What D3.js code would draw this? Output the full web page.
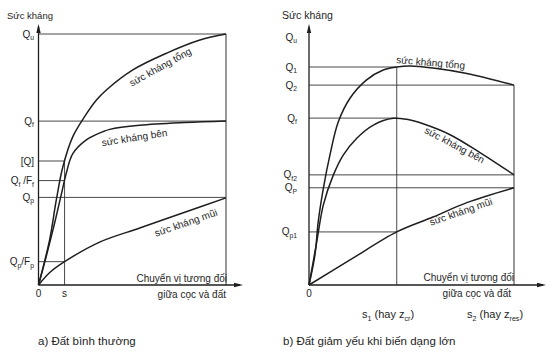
<!DOCTYPE html>
<html><head><meta charset="utf-8">
<script src="https://cdn.jsdelivr.net/npm/d3@7/dist/d3.min.js"></script>
<style>
html,body{margin:0;padding:0;background:#fff;}
svg{display:block;font-family:"Liberation Sans",Arial,sans-serif;}
</style></head>
<body>
<svg id="c" width="560" height="356"></svg>
<script>
// ---------- DATA (resistance units: Qu = 100; displacement units: end of curve = 100) ----------
// Panel a) normal soil
const levelNamesA = ["Qu", "Qf", "[Q]", "Qf/Ff", "Qp", "Qp/Fp"];
const levelValuesA = [100, 65.3, 49.4, 41.6, 34.9, 9.3];
const levelEndA = ["end", "end", "s", "s", "end", "s"];
const sA = 13.9;
const totalA = [[0,0],[5.9,17.9],[9.5,33.9],[13,47.1],[18.3,59.1],[24.6,67.1],[30.9,73.7],[36.2,77.7],[50.3,85.7],[68.4,92.4],[86.1,97.6],[100,100]];
const shaftA = [[0,0],[4.1,11.3],[8.6,24.7],[12.6,37.5],[14.8,44.5],[18.3,52.3],[25.5,57.8],[34.4,61.1],[38,62],[54,63.6],[78,64.7],[100,65.3]];
const tipA = [[0,0],[6,5],[13.9,9.3],[32.6,17.1],[54,22.7],[78,29],[100,34.7]];

// Panel b) strain-softening soil
const levelNamesB = ["Qu", "Q1", "Q2", "Qf", "Qf2", "QP", "Qp1"];
const levelValuesB = [100, 87.9, 80.6, 67.3, 44.4, 39.2, 21.4];
const levelEndB = ["none", "s1", "s2", "s1", "s2", "s2", "s1"];
const s1B = 42.8, s2B = 100;
const totalB = [[0,0],[2.9,12.1],[4.5,25.5],[7,39],[10.2,52.4],[14.3,65.8],[20,75.3],[28.1,82.7],[36.2,86.7],[42.8,87.9],[49.3,88.3],[60.5,87.5],[77,85.3],[100,80.6]];
const shaftB = [[0,0],[3.8,17.5],[7,32.3],[11.9,44.4],[16.7,52.4],[23.3,59.2],[31.4,64.5],[41.1,67.2],[47.7,66.8],[56,64.9],[68.8,60.6],[83.4,53.4],[100,44.4]];
const tipB = [[0,0],[20,10.1],[42.8,21.4],[60.5,27.4],[77,33.2],[100,39.2]];

const curveNames = ["sức kháng tổng", "sức kháng bên", "sức kháng mũi"];
const yTitle = "Sức kháng";
const xTitle = ["Chuyển vị tương đối", "giữa cọc và đất"];
const captions = ["a) Đất bình thường", "b) Đất giảm yếu khi biến dạng lớn"];

// ---------- DRAWING ----------
const svg = d3.select("#c");
const ink = "#1e1e1e";
const FS = 10;

function qParts(name) {
  const map = {
    "Qu": [["Q"],["u",1]], "Qf": [["Q"],["f",1]], "[Q]": [["[Q]"]],
    "Qf/Ff": [["Q"],["f",1],[" /F"],["f",1]], "Qp": [["Q"],["p",1]],
    "Qp/Fp": [["Q"],["p",1],["/F"],["p",1]], "Q1": [["Q"],["1",1]], "Q2": [["Q"],["2",1]],
    "Qf2": [["Q"],["f2",1]], "QP": [["Q"],["P",1]], "Qp1": [["Q"],["p1",1]]
  };
  return map[name];
}
function qLabel(g, x, y, name, anchor) {
  const t = g.append("text").attr("x", x).attr("y", y + 3.5)
    .attr("font-size", FS).attr("fill", ink).attr("text-anchor", anchor || "end");
  let down = false;
  qParts(name).forEach(([s, sub]) => {
    const ts = t.append("tspan").text(s);
    if (sub && !down) { ts.attr("font-size", FS * 0.68).attr("dy", 2.5); down = true; }
    else if (!sub && down) { ts.attr("dy", -2.5); down = false; }
    else if (sub) ts.attr("font-size", FS * 0.68);
  });
}
function subText(g, x, y, fs, parts) {
  const t = g.append("text").attr("x", x).attr("y", y).attr("font-size", fs).attr("fill", ink);
  let down = false;
  parts.forEach(([s, sub]) => {
    const ts = t.append("tspan").text(s);
    if (sub && !down) { ts.attr("font-size", fs * 0.65).attr("dy", 2.5); down = true; }
    else if (!sub && down) { ts.attr("dy", -2.5); down = false; }
  });
}
function arrowY(g, x, y0, y1) {
  g.append("line").attr("x1", x).attr("x2", x).attr("y1", y0).attr("y2", y1).attr("stroke", ink).attr("stroke-width", 1.3);
  g.append("path").attr("d", `M${x},${y1 - 3}L${x - 2.2},${y1 + 6}L${x + 2.2},${y1 + 6}Z`).attr("fill", ink);
}
function arrowX(g, y, x0, x1) {
  g.append("line").attr("x1", x0).attr("x2", x1).attr("y1", y).attr("y2", y).attr("stroke", ink).attr("stroke-width", 1.3);
  g.append("path").attr("d", `M${x1 + 3},${y}L${x1 - 6},${y - 2.2}L${x1 - 6},${y + 2.2}Z`).attr("fill", ink);
}
function rotText(g, x, y, ang, txt) {
  g.append("text").attr("transform", `translate(${x},${y}) rotate(${ang})`)
    .attr("text-anchor", "middle").attr("font-size", FS).attr("fill", ink).text(txt);
}
function txt(g, x, y, s, anchor, fs) {
  g.append("text").attr("x", x).attr("y", y).attr("font-size", fs || FS).attr("fill", ink)
    .attr("text-anchor", anchor || "start").text(s);
}

// ---- Panel a ----
{
  const g = svg.append("g");
  const x = d3.scaleLinear().domain([0, 100]).range([38.5, 226]);
  const y = d3.scaleLinear().domain([0, 100]).range([285, 34]);
  const line = d3.line().x(d => x(d[0])).y(d => y(d[1])).curve(d3.curveCatmullRom.alpha(0.5));

  levelValuesA.forEach((v, i) => {
    const xe = levelEndA[i] === "end" ? x(100) : x(sA);
    g.append("line").attr("x1", x(0)).attr("x2", xe).attr("y1", y(v)).attr("y2", y(v))
      .attr("stroke", "#333").attr("stroke-width", 0.9);
    qLabel(g, 34, y(v), levelNamesA[i]);
  });
  g.append("line").attr("x1", x(sA)).attr("x2", x(sA)).attr("y1", y(levelValuesA[2])).attr("y2", y(0)).attr("stroke", "#333").attr("stroke-width", 0.9);
  g.append("line").attr("x1", x(100)).attr("x2", x(100)).attr("y1", y(100)).attr("y2", y(0)).attr("stroke", "#333").attr("stroke-width", 1);

  [totalA, shaftA, tipA].forEach(d => g.append("path").attr("d", line(d)).attr("fill", "none").attr("stroke", ink).attr("stroke-width", 1.5));

  arrowY(g, x(0), y(0), 27);
  arrowX(g, y(0), x(0), 240);

  txt(g, 7, 19, yTitle, "start", 9.5);
  txt(g, x(0), 297, "0", "middle");
  txt(g, x(sA), 297, "s", "middle");
  txt(g, 227, 282, xTitle[0], "end");
  txt(g, 226, 298, xTitle[1], "end");

  rotText(g, 162, 70, -29, curveNames[0]);
  rotText(g, 135, 141, -9, curveNames[1]);
  rotText(g, 187, 226, -19, curveNames[2]);

  txt(g, 38, 345, captions[0], "start", 11.5);
}

// ---- Panel b ----
{
  const g = svg.append("g");
  const x = d3.scaleLinear().domain([0, 100]).range([309, 514]);
  const y = d3.scaleLinear().domain([0, 100]).range([285, 37]);
  const line = d3.line().x(d => x(d[0])).y(d => y(d[1])).curve(d3.curveCatmullRom.alpha(0.5));

  levelValuesB.forEach((v, i) => {
    const e = levelEndB[i];
    if (e !== "none") {
      const xe = e === "s1" ? x(s1B) : x(s2B);
      g.append("line").attr("x1", x(0)).attr("x2", xe).attr("y1", y(v)).attr("y2", y(v))
        .attr("stroke", "#333").attr("stroke-width", 0.9);
    }
    qLabel(g, 297, y(v), levelNamesB[i]);
  });
  g.append("line").attr("x1", x(s1B)).attr("x2", x(s1B)).attr("y1", y(levelValuesB[1])).attr("y2", y(0)).attr("stroke", "#333").attr("stroke-width", 0.9);
  g.append("line").attr("x1", x(s2B)).attr("x2", x(s2B)).attr("y1", y(levelValuesB[2])).attr("y2", y(0)).attr("stroke", "#333").attr("stroke-width", 1);

  [totalB, shaftB, tipB].forEach(d => g.append("path").attr("d", line(d)).attr("fill", "none").attr("stroke", ink).attr("stroke-width", 1.5));

  arrowY(g, x(0), y(0), 27);
  arrowX(g, y(0), x(0), 543);

  txt(g, 282, 19, yTitle, "start", 10.5);
  txt(g, x(0), 297, "0", "middle");
  txt(g, 514, 281, xTitle[0], "end");
  txt(g, 511, 297, xTitle[1], "end");

  subText(g, 362, 318, 11, [["s"],["1",1],[" (hay z"],["cr",1],[")"]]);
  subText(g, 467, 318, 11, [["s"],["2",1],[" (hay z"],["res",1],[")"]]);

  g.append("text").attr("x", 396).attr("y", 63).attr("font-size", FS).attr("fill", ink).attr("transform", "rotate(5,396,63)").text(curveNames[0]);
  rotText(g, 453, 148, 28, curveNames[1]);
  rotText(g, 462, 215, -19, curveNames[2]);

  txt(g, 283, 345, captions[1], "start", 11.5);
}
</script>
</body></html>
